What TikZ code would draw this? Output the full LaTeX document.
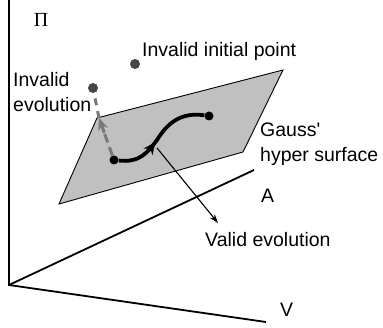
\documentclass[tikz,border=0pt]{standalone}
\usepackage{fontspec}
\setmainfont{Liberation Sans}
\newfontfamily\pifont{Liberation Serif}
\usetikzlibrary{arrows.meta,decorations.markings,calc}
\definecolor{planegray}{RGB}{192,192,192}
\definecolor{dotgray}{RGB}{70,70,70}
\definecolor{dashgray}{RGB}{120,120,120}
\begin{document}
\begin{tikzpicture}[x=1pt,y=-1pt,
  lbl/.style={anchor=base west,inner sep=0pt,font=\fontsize{19.5}{25}\selectfont},
  axisline/.style={line width=1.8pt},
  dotstyle/.style={circle,fill=dotgray,inner sep=0pt,minimum size=10pt},
  blackdot/.style={circle,fill=black,inner sep=0pt,minimum size=9pt}]
\useasboundingbox (0,0) rectangle (383,328);
% axes
\coordinate (O) at (9,285);
\coordinate (Ptop) at (9,0);
\coordinate (Vend) at (266,322);
\coordinate (Aend) at (254,170);
\draw[axisline] (Ptop) -- (O) -- (Vend);
\draw[axisline] (O) -- (Aend);
% plane
\coordinate (BL) at (59,204);
\coordinate (BR) at (243,152);
\coordinate (TR) at (283,70);
\coordinate (TL) at (97,118);
\draw[fill=planegray,line width=0.9pt] (BL) -- (BR) -- (TR) -- (TL) -- cycle;
% points
\node[dotstyle] (ini) at (135,64) {};
\node[dotstyle] (inv) at (93,88) {};
\node[blackdot] (s) at (114,160) {};
\node[blackdot] (e) at (209,116) {};
\coordinate (tip) at (99,118);
\coordinate (ab) at ($(tip)!0.35!(s)$);
% dashed invalid evolution
\draw[dashgray,line width=3pt,dash pattern=on 9pt off 5pt] (s) -- (ab);
\draw[dashgray,line width=3pt,dash pattern=on 7pt off 6pt] (tip) -- (inv);
\draw[dashgray,line width=3pt,-{Stealth[length=12pt,width=10pt]}] (ab) -- (tip);
% valid curve
\draw[line width=3.8pt,postaction={decorate},
  decoration={markings,mark=at position 0.42 with {\arrow{Stealth[length=12pt,width=11pt]}}}]
  (s) .. controls (140,163) and (148,152) .. (157,140) .. controls (168,122) and (182,112) .. (e);
% pointer
\coordinate (pstart) at (157,148);
\coordinate (pend) at (218,223);
\draw[line width=1.1pt,-{Stealth[length=9pt,width=6pt]}] (pstart) -- (pend);
% labels
\node[lbl] (Lini) at (142,57) {Invalid initial point};
\node[lbl] (Linv1) at (13,87) {Invalid};
\node[lbl] (Linv2) at (13,112) {evolution};
\node[lbl] (Lg1) at (260,137) {Gauss\textquotesingle};
\node[lbl] (Lg2) at (260,162) {hyper surface};
\node[lbl] (LA) at (261,203) {A};
\node[lbl] (LV) at (280,317) {V};
\node[lbl] (Lval) at (205,247) {Valid evolution};
\node[anchor=center,inner sep=0pt] (Lpi) at (41,20) {\pifont\fontsize{20}{24}\selectfont Π};
\end{tikzpicture}
\end{document}
